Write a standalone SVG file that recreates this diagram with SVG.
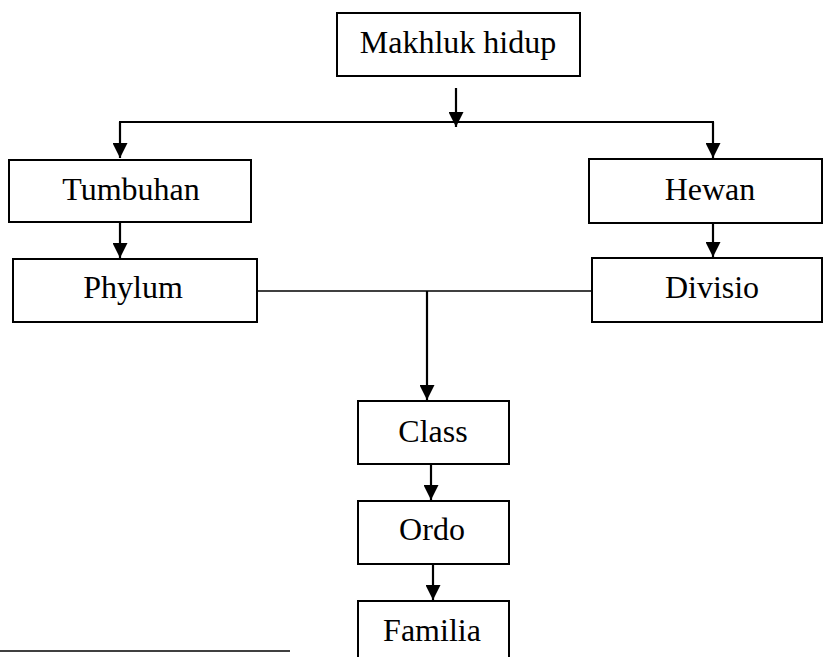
<svg xmlns="http://www.w3.org/2000/svg" width="824" height="657" viewBox="0 0 824 657">
<style>
.box{fill:#fff;stroke:#000;stroke-width:2}
.lbl{font-family:"Liberation Serif","Times New Roman",serif;font-size:32px;fill:#000;text-anchor:middle}
.con{stroke:#000;stroke-width:2.2;fill:none}
.thin{stroke:#000;stroke-width:1.6;fill:none}
</style>
<defs>
<marker id="ah" viewBox="0 0 15 15" refX="15" refY="7.5" markerWidth="15" markerHeight="15" markerUnits="userSpaceOnUse" orient="auto">
<path d="M0,0 L15,7.5 L0,15 z" fill="#000"/>
</marker>
</defs>
<rect width="824" height="657" fill="#fff"/>
<g id="connectors">
<line class="con" x1="456" y1="88" x2="456" y2="127" marker-end="url(#ah)"/>
<line class="con" x1="119" y1="122" x2="714" y2="122"/>
<line class="con" x1="120" y1="122" x2="120" y2="158" marker-end="url(#ah)"/>
<line class="con" x1="713" y1="122" x2="713" y2="158" marker-end="url(#ah)"/>
<line class="con" x1="120" y1="222" x2="120" y2="258" marker-end="url(#ah)"/>
<line class="con" x1="713" y1="223" x2="713" y2="257" marker-end="url(#ah)"/>
<line class="thin" x1="252" y1="291" x2="592" y2="291"/>
<line class="con" x1="427" y1="291" x2="427" y2="400" marker-end="url(#ah)"/>
<line class="con" x1="431" y1="464" x2="431" y2="500" marker-end="url(#ah)"/>
<line class="con" x1="433" y1="564" x2="433" y2="600" marker-end="url(#ah)"/>
</g>
<g id="makhluk"><rect class="box" x="337" y="13" width="243" height="63"/><text class="lbl" x="458" y="53">Makhluk hidup</text></g>
<g id="tumbuhan"><rect class="box" x="9" y="160" width="242" height="62"/><text class="lbl" x="131" y="200">Tumbuhan</text></g>
<g id="hewan"><rect class="box" x="589" y="159" width="233" height="64"/><text class="lbl" x="710" y="200">Hewan</text></g>
<g id="phylum"><rect class="box" x="13" y="259" width="244" height="63"/><text class="lbl" x="133" y="298">Phylum</text></g>
<g id="divisio"><rect class="box" x="592" y="258" width="230" height="64"/><text class="lbl" x="712" y="298">Divisio</text></g>
<g id="class"><rect class="box" x="358" y="401" width="151" height="63"/><text class="lbl" x="433" y="442">Class</text></g>
<g id="ordo"><rect class="box" x="358" y="501" width="151" height="63"/><text class="lbl" x="432" y="540">Ordo</text></g>
<g id="familia"><rect class="box" x="358" y="601" width="151" height="80"/><text class="lbl" x="432" y="641">Familia</text></g>
<line x1="0" y1="651" x2="290" y2="651" stroke="#000" stroke-width="1.6"/>
</svg>
